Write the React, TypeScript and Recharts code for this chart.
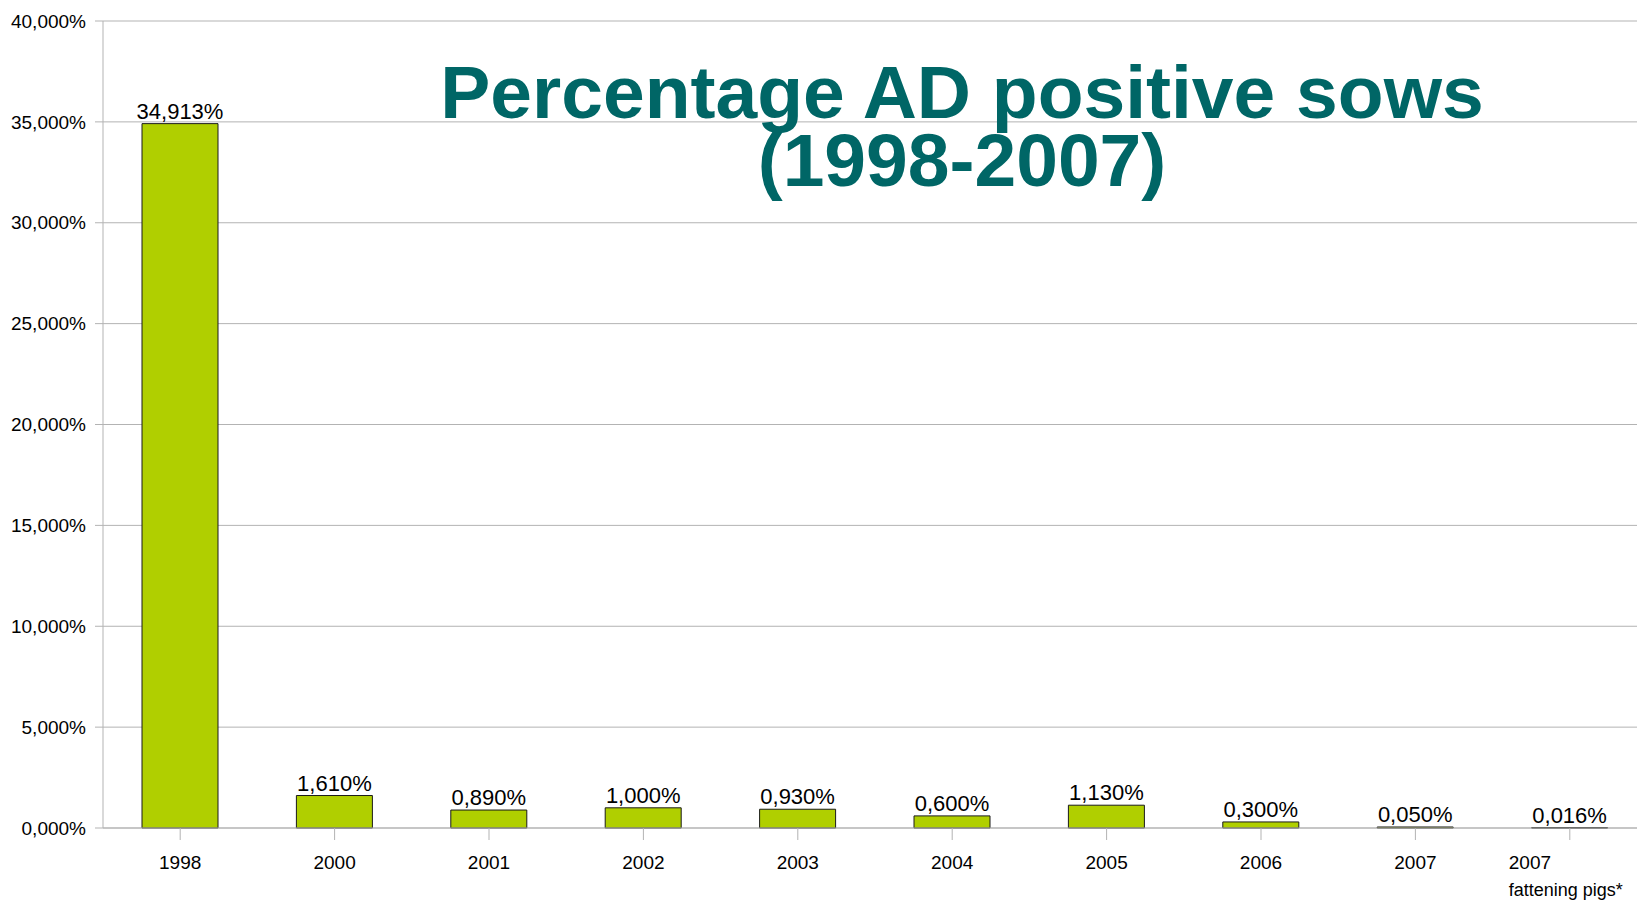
import React from 'react';
import { BarChart, Bar, XAxis, YAxis, CartesianGrid, LabelList } from 'recharts';

const years = ['1998', '2000', '2001', '2002', '2003', '2004', '2005', '2006', '2007', '2007\nfattening pigs*'];
const positivePct = [34.913, 1.61, 0.89, 1.0, 0.93, 0.6, 1.13, 0.3, 0.05, 0.016];
const yTicks = [0, 5, 10, 15, 20, 25, 30, 35, 40];

const data = years.map((year, i) => ({ year, pct: positivePct[i] }));

const fmt = (v: number) => v.toFixed(3).replace('.', ',') + '%';

const XTick: React.FC<any> = ({ x, y, payload }) => {
  const lines = String(payload.value).split('\n');
  if (lines.length === 1) {
    return (
      <text x={x} y={y} dy={27} textAnchor="middle" fontSize={19} fill="#000" fontFamily="'Liberation Sans', Arial, sans-serif">
        {lines[0]}
      </text>
    );
  }
  // multi-line label: left-aligned block centred on the tick
  const left = x - 61;
  return (
    <text x={left} y={y} fontSize={19} fill="#000" fontFamily="'Liberation Sans', Arial, sans-serif">
      {lines.map((l, i) => (
        <tspan key={i} x={left} dy={27} fontSize={i === 0 ? 19 : 18}>{l}</tspan>
      ))}
    </text>
  );
};

export default function App() {
  // the plot runs a little past the right edge of the picture, as in the original slide
  return (
    <div style={{ position: 'absolute', left: 0, top: 0, width: 1637, height: 900, overflow: 'hidden', background: '#fff' }}>
      <BarChart
        width={1647}
        height={900}
        data={data}
        margin={{ top: 21, right: 0, left: 0, bottom: 0 }}
        barCategoryGap={0}
      >
        <CartesianGrid vertical={false} stroke="#b3b3b3" />
        <XAxis
          dataKey="year"
          stroke="#b3b3b3"
          tickSize={12}
          tick={<XTick />}
          interval={0}
          height={72}
        />
        <YAxis
          width={103}
          domain={[0, 40]}
          ticks={yTicks}
          tickFormatter={fmt}
          stroke="#b3b3b3"
          tickSize={8}
          tickMargin={9}
          tick={{ fontSize: 19, fill: '#000', fontFamily: "'Liberation Sans', Arial, sans-serif" }}
        />
        <Bar dataKey="pct" fill="#b0cf00" stroke="#1a1a1a" strokeWidth={1} barSize={76} isAnimationActive={false}>
          <LabelList
            dataKey="pct"
            position="top"
            formatter={(v: any) => fmt(Number(v))}
            style={{ fontSize: 22, fill: '#000', fontFamily: "'Liberation Sans', Arial, sans-serif" }}
          />
        </Bar>
      </BarChart>
      <div
        style={{
          position: 'absolute',
          left: 962 - 600,
          width: 1200,
          top: 58,
          textAlign: 'center',
          fontFamily: "'Liberation Sans', Arial, sans-serif",
          fontWeight: 'bold',
          fontSize: 75,
          lineHeight: '68px',
          color: '#006666',
          pointerEvents: 'none',
        }}
      >
        Percentage AD positive sows
        <br />
        (1998-2007)
      </div>
    </div>
  );
}
